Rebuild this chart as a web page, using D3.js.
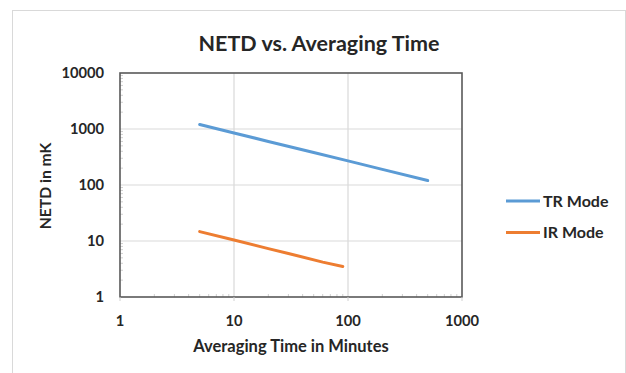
<!DOCTYPE html>
<html>
<head>
<meta charset="utf-8">
<script src="https://cdn.jsdelivr.net/npm/d3@7"></script>
<style>
  body { margin: 0; background: #fff; }
  text { font-family: Lato, "Open Sans", sans-serif; font-weight: bold; fill: #262626; }
</style>
</head>
<body>
<svg id="chart" width="626" height="373"></svg>
<script>
// values
const trTimes = [5, 10, 20, 50, 100, 200, 500];
const trNetd = [1200, 850, 600, 380, 270, 190, 120];
const irTimes = [5, 10, 20, 30, 60, 90];
const irNetd = [14.7, 10.4, 7.3, 6.0, 4.2, 3.5];
const xTicks = [1, 10, 100, 1000];
const yTicks = [1, 10, 100, 1000, 10000];
const seriesNames = ["TR Mode", "IR Mode"];
const seriesColors = ["#5b9bd5", "#ed7d31"];

const series = [
  { name: seriesNames[0], color: seriesColors[0], pts: trTimes.map((t, i) => [t, trNetd[i]]) },
  { name: seriesNames[1], color: seriesColors[1], pts: irTimes.map((t, i) => [t, irNetd[i]]) },
];

const svg = d3.select("#chart");
const plot = { left: 120, top: 73, right: 462, bottom: 297 };

// outer chart border
svg.append("rect")
  .attr("x", 12.5).attr("y", 10.5)
  .attr("width", 613).attr("height", 370)
  .attr("fill", "none")
  .attr("stroke", "#d9d9d9");

const x = d3.scaleLog().domain([1, 1000]).range([plot.left, plot.right]);
const y = d3.scaleLog().domain([1, 10000]).range([plot.bottom, plot.top]);

// gridlines
svg.append("g")
  .selectAll("line")
  .data(xTicks.slice(1, -1))
  .join("line")
  .attr("x1", d => x(d)).attr("x2", d => x(d))
  .attr("y1", plot.top).attr("y2", plot.bottom)
  .attr("stroke", "#d9d9d9").attr("stroke-width", 1.2);
svg.append("g")
  .selectAll("line")
  .data(yTicks.slice(1, -1))
  .join("line")
  .attr("x1", plot.left).attr("x2", plot.right)
  .attr("y1", d => y(d)).attr("y2", d => y(d))
  .attr("stroke", "#d9d9d9").attr("stroke-width", 1.2);

// minor ticks inside the frame
const minorX = x.ticks().filter(d => !xTicks.includes(d));
const minorY = y.ticks().filter(d => !yTicks.includes(d));
svg.append("g")
  .selectAll("line")
  .data(minorX)
  .join("line")
  .attr("x1", d => x(d)).attr("x2", d => x(d))
  .attr("y1", plot.bottom).attr("y2", plot.bottom - 3)
  .attr("stroke", "#d0d0d0");
svg.append("g")
  .selectAll("line")
  .data(minorY)
  .join("line")
  .attr("x1", plot.left).attr("x2", plot.left + 3)
  .attr("y1", d => y(d)).attr("y2", d => y(d))
  .attr("stroke", "#d0d0d0");

// frame
svg.append("rect")
  .attr("x", plot.left).attr("y", plot.top)
  .attr("width", plot.right - plot.left).attr("height", plot.bottom - plot.top)
  .attr("fill", "none")
  .attr("stroke", "#595959").attr("stroke-width", 1.6);

// major ticks below x axis
svg.append("g")
  .selectAll("line")
  .data(xTicks)
  .join("line")
  .attr("x1", d => x(d)).attr("x2", d => x(d))
  .attr("y1", plot.bottom).attr("y2", plot.bottom + 4)
  .attr("stroke", "#d0d0d0");

// tick labels
svg.append("g")
  .attr("text-anchor", "middle")
  .selectAll("text")
  .data(xTicks)
  .join("text")
  .attr("x", d => x(d)).attr("y", 326)
  .attr("font-size", 14.7)
  .text(d => d);
svg.append("g")
  .attr("text-anchor", "end")
  .selectAll("text")
  .data(yTicks)
  .join("text")
  .attr("x", 104).attr("y", d => y(d) + 5)
  .attr("font-size", 14.7)
  .text(d => d);

// titles
svg.append("text")
  .attr("x", 319).attr("y", 51)
  .attr("text-anchor", "middle")
  .attr("font-size", 21.5)
  .text("NETD vs. Averaging Time");
svg.append("text")
  .attr("x", 291).attr("y", 352)
  .attr("text-anchor", "middle")
  .attr("font-size", 16.5)
  .text("Averaging Time in Minutes");
svg.append("text")
  .attr("transform", "translate(51,186) rotate(-90)")
  .attr("text-anchor", "middle")
  .attr("font-size", 15.7)
  .text("NETD in mK");

// lines
const line = d3.line().x(d => x(d[0])).y(d => y(d[1]));
svg.append("g")
  .selectAll("path")
  .data(series)
  .join("path")
  .attr("d", d => line(d.pts))
  .attr("fill", "none")
  .attr("stroke", d => d.color)
  .attr("stroke-width", 3)
  .attr("stroke-linecap", "round");

// legend
const legend = svg.append("g")
  .selectAll("g")
  .data(series)
  .join("g")
  .attr("transform", (d, i) => `translate(506,${201 + i * 31.5})`);
legend.append("line")
  .attr("x1", 0).attr("x2", 34)
  .attr("stroke", d => d.color)
  .attr("stroke-width", 3);
legend.append("text")
  .attr("x", 37).attr("y", 5.5)
  .attr("font-size", 16)
  .text(d => d.name);
</script>
</body>
</html>
